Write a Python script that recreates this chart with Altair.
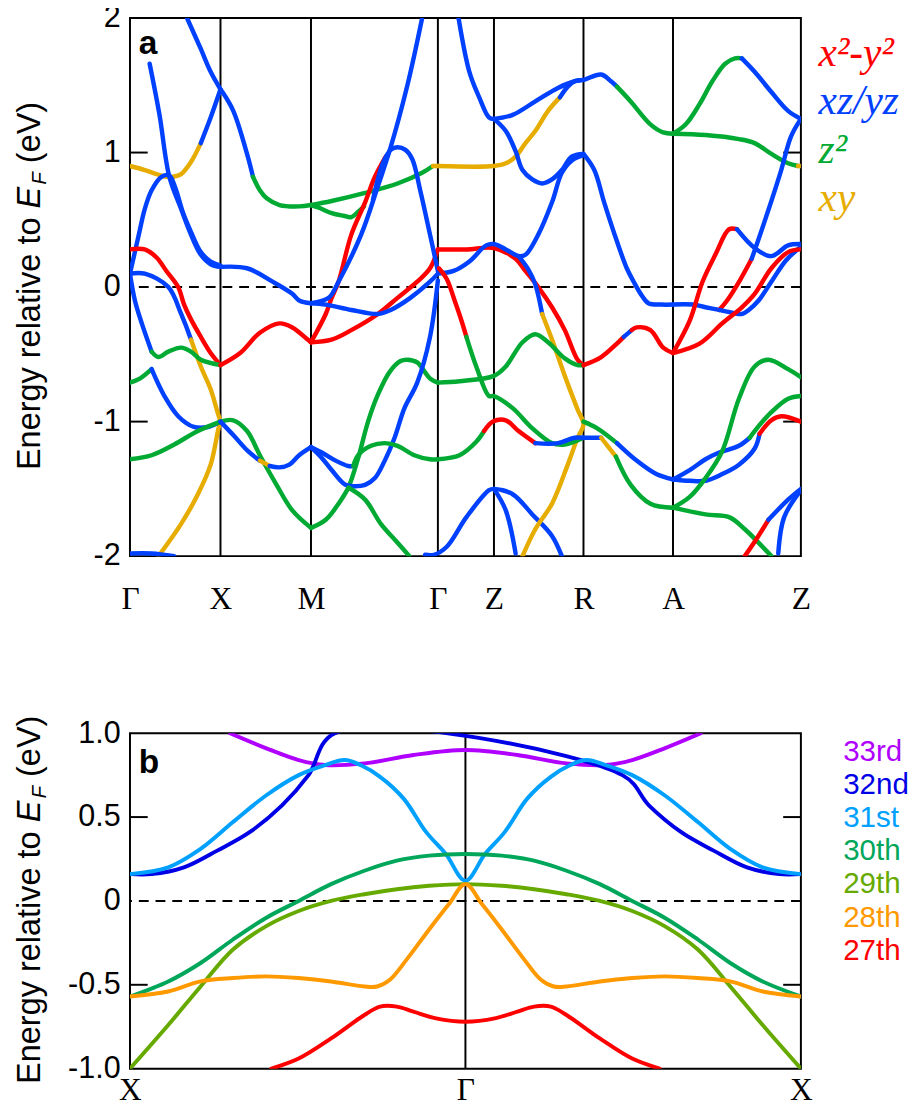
import altair as alt
import pandas as pd

# ---------------- Panel a: orbital-resolved bands ----------------
ORB_KEYS = ["x2y2", "xzyz", "z2", "xy"]
ORB_COLORS = ["#FF0000", "#0040FF", "#00AA33", "#E6AC00"]
ORB_LABELS = ["x²-y²", "xz/yz", "z²", "xy"]

KPOS_A = [0, 92, 184, 313, 370, 461, 552, 682]
KLAB_A = ["Γ", "X", "M", "Γ", "Z", "R", "A", "Z"]

SEG_GX = [
    ("xy", [(0, 0.90), (15, 0.87), (27, 0.84), (37, 0.82), (44, 0.82), (52, 0.84), (62, 0.93), (72, 1.07)]),
    ("xzyz", [(72, 1.07), (82, 1.26), (92, 1.47)]),
    ("xzyz", [(58, 2.0), (72, 1.77), (82, 1.60), (92, 1.47)]),
    ("xzyz", [(20, 1.66), (30, 1.28), (40, 0.82), (52, 0.58), (62, 0.39), (72, 0.24), (82, 0.17), (92, 0.15)]),
    ("xzyz", [(0, 0.10), (9, 0.39), (15, 0.58), (22, 0.72), (32, 0.82), (40, 0.83), (46, 0.74), (54, 0.55), (62, 0.41), (72, 0.26), (82, 0.19), (92, 0.16)]),
    ("x2y2", [(0, 0.28), (15, 0.28), (27, 0.22), (37, 0.12), (49, 0.0), (55, -0.13), (62, -0.24), (72, -0.37), (82, -0.49), (92, -0.58)]),
    ("xzyz", [(0, 0.10), (15, 0.10), (39, 0.0), (52, -0.20), (62, -0.39)]),
    ("xy", [(62, -0.39), (72, -0.59), (82, -0.76), (89, -0.93), (92, -1.0)]),
    ("xy", [(29, -2.0), (52, -1.76), (69, -1.54), (82, -1.32), (90, -1.05), (92, -1.0)]),
    ("xzyz", [(0, 0.10), (5, -0.10), (12, -0.27), (22, -0.48)]),
    ("z2", [(22, -0.48), (29, -0.52), (39, -0.48), (52, -0.45), (62, -0.48), (72, -0.54), (92, -0.58)]),
    ("z2", [(0, -0.71), (10, -0.68), (22, -0.61)]),
    ("xzyz", [(22, -0.61), (35, -0.81), (49, -0.96), (65, -1.04), (79, -1.04), (92, -1.0)]),
    ("z2", [(0, -1.28), (22, -1.25), (45, -1.17), (69, -1.07), (92, -1.0)]),
    ("xzyz", [(0, -1.98), (22, -1.98), (45, -2.0)]),
]

SEG_XM = [
    ("xzyz", [(92, 1.47), (94, 1.45), (105, 1.31), (119, 0.99), (125, 0.82)]),
    ("z2", [(125, 0.82), (132, 0.72), (139, 0.66), (152, 0.61), (172, 0.60), (184, 0.61)]),
    ("xzyz", [(92, 0.15), (119, 0.14), (145, 0.04), (165, -0.05), (172, -0.10), (184, -0.12)]),
    ("x2y2", [(92, -0.58), (112, -0.49), (132, -0.34), (152, -0.27), (165, -0.30), (179, -0.38), (184, -0.41)]),
    ("z2", [(92, -1.0), (105, -0.99), (119, -1.07), (132, -1.25), (149, -1.47), (165, -1.66), (184, -1.79)]),
    ("xzyz", [(92, -1.0), (105, -1.10), (120, -1.22), (132, -1.29)]),
    ("xy", [(132, -1.29), (142, -1.33)]),
    ("xzyz", [(142, -1.33), (152, -1.34), (162, -1.32), (172, -1.25), (184, -1.19)]),
]

SEG_MG = [
    ("z2", [(184, 0.61), (205, 0.64), (239, 0.70), (272, 0.77), (297, 0.85), (308, 0.90)]),
    ("xy", [(308, 0.90), (313, 0.90)]),
    ("z2", [(184, 0.61), (192, 0.59), (205, 0.55), (217, 0.53), (225, 0.52), (232, 0.56), (238, 0.60)]),
    ("x2y2", [(184, -0.41), (199, -0.20), (205, -0.08), (212, 0.04), (225, 0.39), (239, 0.63), (249, 0.82), (260, 0.97)]),
    ("x2y2", [(184, -0.41), (205, -0.39), (225, -0.32), (252, -0.20), (272, -0.08), (292, 0.04), (305, 0.14), (313, 0.28)]),
    ("xzyz", [(184, -0.12), (202, -0.08), (212, 0.04), (235, 0.39), (252, 0.75), (265, 1.04), (282, 1.50), (297, 2.0)]),
    ("xzyz", [(247, 0.65), (257, 0.92), (265, 1.02), (272, 1.04), (280, 1.02), (287, 0.95), (295, 0.72), (305, 0.39), (313, 0.12)]),
    ("xzyz", [(184, -0.12), (199, -0.13), (225, -0.17), (252, -0.20), (265, -0.17), (285, -0.08), (305, 0.04), (313, 0.10)]),
    ("z2", [(184, -1.79), (199, -1.73), (212, -1.61), (222, -1.49), (232, -1.27), (242, -1.0), (252, -0.80), (264, -0.63), (275, -0.55), (282, -0.54), (292, -0.56), (305, -0.68), (313, -0.71)]),
    ("xzyz", [(184, -1.19), (195, -1.27), (205, -1.36), (219, -1.47), (229, -1.48), (239, -1.47), (249, -1.42), (259, -1.29), (269, -1.12), (279, -0.90), (292, -0.71), (305, -0.37), (313, 0.05)]),
    ("xzyz", [(184, -1.19), (195, -1.23), (209, -1.29), (222, -1.33), (227, -1.33)]),
    ("z2", [(227, -1.33), (232, -1.25), (245, -1.18), (259, -1.16), (272, -1.18), (289, -1.25), (305, -1.28), (313, -1.28)]),
    ("z2", [(222, -1.49), (239, -1.58), (255, -1.76), (272, -1.90), (284, -2.0)]),
]

SEG_GZR = [
    ("xzyz", [(300, -1.99), (309, -1.99), (322, -1.93), (342, -1.71), (365, -1.51), (370, -1.50), (389, -1.54), (409, -1.69), (429, -1.85), (439, -2.0)]),
    ("xzyz", [(370, -1.50), (382, -1.66), (392, -1.98)]),
    ("xzyz", [(334, 2.0), (345, 1.60), (355, 1.41), (365, 1.26), (370, 1.25)]),
    ("xy", [(313, 0.90), (370, 0.90), (382, 0.92), (392, 0.97), (402, 1.07), (412, 1.16), (425, 1.31), (437, 1.41)]),
    ("xzyz", [(437, 1.41), (445, 1.49), (452, 1.53), (461, 1.54)]),
    ("xzyz", [(370, 1.25), (389, 1.28), (412, 1.38), (435, 1.48), (452, 1.53), (461, 1.54), (479, 1.58), (489, 1.53), (495, 1.49)]),
    ("z2", [(495, 1.49), (509, 1.38), (529, 1.21), (542, 1.15), (552, 1.14)]),
    ("xzyz", [(370, 1.25), (382, 1.16), (392, 1.01), (399, 0.87), (409, 0.80), (419, 0.77), (429, 0.80), (439, 0.87), (449, 0.97), (461, 0.99)]),
    ("xzyz", [(461, 0.99), (472, 0.87), (482, 0.63), (495, 0.34), (505, 0.14), (512, 0.04), (520, -0.06), (527, -0.12), (540, -0.13), (552, -0.13)]),
    ("x2y2", [(313, 0.28), (342, 0.28), (370, 0.29), (392, 0.21), (402, 0.12), (415, 0.0), (429, -0.15), (442, -0.32), (455, -0.54), (461, -0.58)]),
    ("xzyz", [(313, 0.10), (329, 0.12), (345, 0.19), (362, 0.31), (370, 0.32), (382, 0.28), (395, 0.23), (402, 0.24), (415, 0.39), (429, 0.63), (439, 0.85), (449, 0.94), (461, 0.98)]),
    ("xzyz", [(395, 0.23), (405, 0.13), (412, 0.02), (419, -0.20)]),
    ("xy", [(419, -0.20), (429, -0.39), (442, -0.66), (455, -0.91), (461, -1.02), (455, -1.12), (445, -1.32), (429, -1.61), (412, -1.80), (399, -2.0)]),
    ("x2y2", [(314, 0.14), (322, 0.06), (330, -0.10), (337, -0.25), (342, -0.37)]),
    ("z2", [(342, -0.37), (352, -0.59), (365, -0.81), (370, -0.81), (389, -0.90), (409, -1.05), (429, -1.16), (442, -1.17), (461, -1.12)]),
    ("z2", [(313, -0.71), (335, -0.70), (370, -0.66), (382, -0.59), (399, -0.41), (412, -0.35), (425, -0.41), (442, -0.53), (455, -0.58), (461, -0.58)]),
    ("z2", [(313, -1.28), (335, -1.25), (352, -1.15), (360, -1.07)]),
    ("x2y2", [(360, -1.07), (369, -1.0), (382, -0.99), (395, -1.07), (412, -1.16)]),
    ("xzyz", [(412, -1.16), (435, -1.16), (452, -1.12), (461, -1.12)]),
]

SEG_RA = [
    ("z2", [(461, -1.0), (475, -1.05), (495, -1.16)]),
    ("xzyz", [(495, -1.16), (515, -1.29), (535, -1.39), (552, -1.43)]),
    ("xzyz", [(461, -1.12), (479, -1.12)]),
    ("xy", [(479, -1.12), (494, -1.26)]),
    ("z2", [(494, -1.26), (509, -1.47), (529, -1.61), (552, -1.64)]),
    ("x2y2", [(461, -0.58), (479, -0.52), (495, -0.42), (502, -0.37)]),
    ("xzyz", [(502, -0.37), (510, -0.32)]),
    ("x2y2", [(510, -0.32), (515, -0.30), (529, -0.32), (542, -0.45), (552, -0.49)]),
]

SEG_AZ = [
    ("z2", [(552, 1.14), (565, 1.21), (579, 1.36), (592, 1.53), (605, 1.66), (615, 1.70), (622, 1.70)]),
    ("xzyz", [(622, 1.70), (635, 1.60), (652, 1.45), (669, 1.31), (682, 1.25)]),
    ("z2", [(552, 1.14), (585, 1.13), (619, 1.10), (635, 1.07), (652, 0.99), (669, 0.92), (679, 0.90)]),
    ("xy", [(679, 0.90), (682, 0.90)]),
    ("xzyz", [(552, -0.13), (572, -0.13), (585, -0.15), (599, -0.17)]),
    ("x2y2", [(599, -0.17), (607, -0.10), (620, 0.05), (632, 0.21)]),
    ("xzyz", [(632, 0.21), (642, 0.42), (652, 0.64), (662, 0.87), (672, 1.12), (682, 1.25)]),
    ("xzyz", [(599, -0.17), (612, -0.19), (622, -0.20), (629, -0.17), (639, -0.10), (652, 0.04), (667, 0.20), (682, 0.30)]),
    ("x2y2", [(552, -0.49), (569, -0.25), (582, 0.04), (595, 0.24), (609, 0.43), (617, 0.43)]),
    ("xzyz", [(617, 0.43), (635, 0.29), (652, 0.23), (669, 0.31), (682, 0.32)]),
    ("x2y2", [(552, -0.49), (579, -0.42), (602, -0.27), (622, -0.15), (635, -0.05), (652, 0.14), (669, 0.26), (682, 0.28)]),
    ("xzyz", [(552, -1.43), (569, -1.44), (585, -1.44), (602, -1.39), (619, -1.32), (635, -1.20), (640, -1.09)]),
    ("x2y2", [(640, -1.09), (652, -0.99), (662, -0.96), (682, -1.0)]),
    ("xzyz", [(552, -1.43), (569, -1.36), (585, -1.28), (599, -1.23), (619, -1.18), (630, -1.12)]),
    ("z2", [(630, -1.12), (635, -1.07), (652, -0.93), (669, -0.83), (682, -0.81)]),
    ("z2", [(552, -1.64), (569, -1.56), (585, -1.42), (602, -1.22), (619, -0.83), (635, -0.59), (649, -0.54), (669, -0.61), (682, -0.67)]),
    ("z2", [(552, -1.64), (585, -1.69), (609, -1.71), (625, -1.80), (652, -2.0)]),
    ("x2y2", [(625, -2.0), (638, -1.86), (649, -1.73)]),
    ("xzyz", [(649, -1.73), (669, -1.58), (682, -1.50)]),
    ("xzyz", [(659, -1.98), (665, -1.71), (682, -1.51)]),
]

# ---------------- Panel b: band-index resolved (X - Gamma half, symmetric) ----------------
KPOS_B = [0, 342, 684]
KLAB_B = ["X", "Γ", "X"]
BAND_NAMES = ["33rd", "32nd", "31st", "30th", "29th", "28th", "27th"]
BAND_COLORS = ["#B000FF", "#0000E6", "#00A0FF", "#00A65A", "#66AA00", "#FF9900", "#FF0000"]

B33 = [(102, 1.0), (139, 0.91), (172, 0.84), (199, 0.81), (239, 0.82), (289, 0.87), (342, 0.90)]
B32 = [(0, 0.16), (22, 0.16), (55, 0.20), (89, 0.30), (122, 0.41), (155, 0.57), (182, 0.75), (209, 1.0)]
B31 = [(0, 0.16), (39, 0.20), (72, 0.31), (105, 0.47), (139, 0.63), (172, 0.75), (199, 0.81), (219, 0.84), (235, 0.81), (255, 0.74), (279, 0.61), (302, 0.41), (322, 0.28), (342, 0.12)]
B30 = [(0, -0.57), (39, -0.48), (72, -0.37), (105, -0.23), (139, -0.10), (172, 0.0), (205, 0.10), (239, 0.18), (272, 0.24), (305, 0.27), (342, 0.28)]
B29 = [(0, -1.0), (39, -0.74), (72, -0.51), (105, -0.29), (139, -0.15), (172, -0.06), (205, 0.0), (239, 0.04), (272, 0.07), (305, 0.09), (342, 0.10)]
B28 = [(0, -0.57), (39, -0.54), (72, -0.48), (105, -0.46), (139, -0.45), (172, -0.46), (205, -0.48), (239, -0.51), (252, -0.51), (265, -0.47), (282, -0.35), (305, -0.17), (325, -0.02), (342, 0.10)]
B27 = [(144, -1.0), (172, -0.94), (205, -0.82), (239, -0.68), (255, -0.63), (272, -0.63), (289, -0.66), (312, -0.70), (342, -0.72)]
BANDS_B = [B33, B32, B31, B30, B29, B28, B27]


def build_a(groups):
    rows, sid = [], 0
    for g in groups:
        for orb, pts in g:
            for i, (k, e) in enumerate(pts):
                rows.append({"seg": sid, "i": i, "k": k, "E": e, "orb": orb})
            sid += 1
    return pd.DataFrame(rows)


def build_b():
    rows = []
    for name, pts in zip(BAND_NAMES, BANDS_B):
        full = list(pts) + [(2 * 342 - k, e) for k, e in reversed(pts[:-1])]
        for i, (k, e) in enumerate(full):
            rows.append({"band": name, "i": i, "k": k, "E": e})
    return pd.DataFrame(rows)


df_a = build_a([SEG_GX, SEG_XM, SEG_MG, SEG_GZR, SEG_RA, SEG_AZ])
df_b = build_b()

W = 682
HA = 547
HB = 341
SANS = "Liberation Sans, Arial, Helvetica, sans-serif"
SERIF = "Liberation Serif, Times New Roman, serif"


def lab_expr(vals, labs):
    s = ""
    for v, l in zip(vals, labs):
        s += f"datum.value == {v} ? '{l}' : "
    return s + "''"


X_A = alt.X("k:Q", title=None,
            scale=alt.Scale(domain=[0, W], nice=False, zero=False),
            axis=alt.Axis(values=KPOS_A, labelExpr=lab_expr(KPOS_A, KLAB_A), ticks=False, domain=False,
                          grid=False, labelFont=SERIF, labelFontSize=32, labelColor="black",
                          labelPadding=28, labelFlush=False, labelOverlap=False))
Y_A = alt.Y("E:Q", title=None,
            scale=alt.Scale(domain=[-2, 2], nice=False),
            axis=alt.Axis(values=[-2, -1, 0, 1, 2],
                          labelExpr="datum.value < 0 ? '-' + abs(datum.value) : '' + datum.value",
                          ticks=False, domain=False, grid=False, labelFont=SANS, labelFontSize=31,
                          labelColor="black", labelPadding=10))

X_B = alt.X("k:Q", title=None,
            scale=alt.Scale(domain=[0, 684], nice=False, zero=False),
            axis=alt.Axis(values=KPOS_B, labelExpr=lab_expr(KPOS_B, KLAB_B), ticks=False, domain=False,
                          grid=False, labelFont=SERIF, labelFontSize=32, labelColor="black",
                          labelPadding=6, labelFlush=False, labelOverlap=False))
Y_B = alt.Y("E:Q", title=None,
            scale=alt.Scale(domain=[-1, 1], nice=False),
            axis=alt.Axis(values=[-1, -0.5, 0, 0.5, 1],
                          labelExpr="datum.value == 0 ? '0' : (datum.value < 0 ? '-' : '') + format(abs(datum.value), '.1f')",
                          ticks=False, domain=False, grid=False, labelFont=SANS, labelFontSize=31,
                          labelColor="black", labelPadding=10))


def txt(s, x, y, **kw):
    return alt.Chart(pd.DataFrame({"t": [s]})).mark_text(**kw).encode(
        x=alt.value(x), y=alt.value(y), text="t:N")


def ytitle(center):
    fs = 33
    start = center + 186
    pieces = [
        txt("Energy relative to", -91, start, angle=270, align="left", baseline="alphabetic",
            font=SANS, fontSize=fs, color="black"),
        txt("E", -91, start - 266, angle=270, align="left", baseline="alphabetic",
            font=SANS, fontSize=fs, fontStyle="italic", color="black"),
        txt("F", -85, start - 290, angle=270, align="left", baseline="alphabetic",
            font=SANS, fontSize=21, fontStyle="italic", color="black"),
        txt("(eV)", -91, start - 312, angle=270, align="left", baseline="alphabetic",
            font=SANS, fontSize=fs, color="black"),
    ]
    return pieces


def frame_layers(X, Y, vlines, tickvals):
    layers = []
    layers.append(alt.Chart(pd.DataFrame({"k": vlines})).mark_rule(color="black", strokeWidth=2).encode(x=X))
    layers.append(alt.Chart(pd.DataFrame({"E": [0]})).mark_rule(color="black", strokeWidth=2,
                                                                 strokeDash=[10, 7]).encode(y=Y))
    tdf = pd.DataFrame({"E": tickvals})
    layers.append(alt.Chart(tdf).mark_rule(color="black", strokeWidth=2).encode(
        y=Y, x=alt.value(0), x2=alt.value(18)))
    layers.append(alt.Chart(tdf).mark_rule(color="black", strokeWidth=2).encode(
        y=Y, x=alt.value(W - 18), x2=alt.value(W)))
    return layers


# ---- panel a
bands_a = alt.Chart(df_a).mark_line(strokeWidth=4.5, interpolate="catmull-rom", clip=True,
                                    strokeCap="round", strokeJoin="round").encode(
    x=X_A, y=Y_A,
    color=alt.Color("orb:N", scale=alt.Scale(domain=ORB_KEYS, range=ORB_COLORS), legend=None),
    detail="seg:N", order="i:Q")

layers_a = frame_layers(X_A, Y_A, KPOS_A[1:-1], [-1, 1]) + [bands_a]
for i, (lab, col) in enumerate(zip(ORB_LABELS, ORB_COLORS)):
    layers_a.append(txt(lab, 700, 49 + 49 * i, align="left", baseline="alphabetic", font=SERIF,
                        fontSize=42, fontStyle="italic", color=col))
layers_a.append(txt("a", 9, 37, align="left", baseline="alphabetic", font=SANS, fontSize=34,
                    fontWeight="bold", color="black"))
layers_a += ytitle(HA / 2)
panel_a = alt.layer(*layers_a).properties(width=W, height=HA)

# ---- panel b
bands_b = alt.Chart(df_b).mark_line(strokeWidth=4, interpolate="catmull-rom", clip=True,
                                    strokeCap="round").encode(
    x=X_B, y=Y_B,
    color=alt.Color("band:N", scale=alt.Scale(domain=BAND_NAMES, range=BAND_COLORS), legend=None),
    detail="band:N", order="i:Q")

layers_b = frame_layers(X_B, Y_B, [342], [-0.5, 0.5]) + [bands_b]
for i, (lab, col) in enumerate(zip(BAND_NAMES, BAND_COLORS)):
    layers_b.append(txt(lab, 725, 28 + 33.7 * i, align="left", baseline="alphabetic", font=SANS,
                        fontSize=30, color=col))
layers_b.append(txt("b", 9, 40, align="left", baseline="alphabetic", font=SANS, fontSize=34,
                    fontWeight="bold", color="black"))
layers_b += ytitle(HB / 2)
panel_b = alt.layer(*layers_b).properties(width=W, height=HB)

chart = alt.vconcat(panel_a, panel_b, spacing=180, bounds="flush").resolve_scale(
    color="independent").configure_view(
    stroke="black", strokeWidth=2).properties(
    padding={"left": 5, "top": -16, "right": 5, "bottom": 5})

chart.save("out.html", embed_options={"renderer": "svg", "actions": False})
